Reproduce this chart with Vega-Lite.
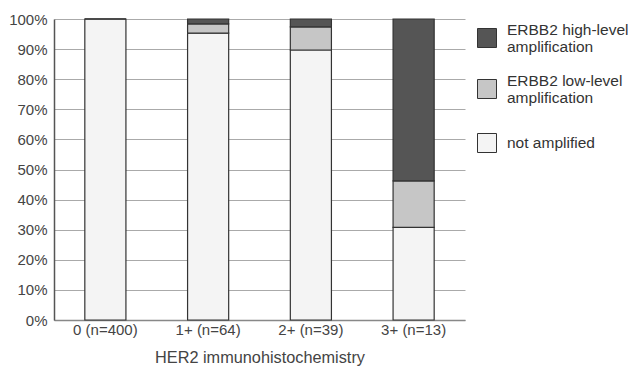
{
  "$schema": "https://vega.github.io/schema/vega-lite/v6.json",
  "width": 411,
  "height": 301,
  "autosize": "none",
  "padding": {"left": 54, "top": 19, "right": 163, "bottom": 47},
  "background": "white",
  "data": {
    "values": [
      {"ihc": "0 (n=400)", "status": "not amplified", "pct": 100, "ord": 1},
      {"ihc": "0 (n=400)", "status": "ERBB2 low-level amplification", "pct": 0, "ord": 2},
      {"ihc": "0 (n=400)", "status": "ERBB2 high-level amplification", "pct": 0, "ord": 3},
      {"ihc": "1+ (n=64)", "status": "not amplified", "pct": 95.3, "ord": 1},
      {"ihc": "1+ (n=64)", "status": "ERBB2 low-level amplification", "pct": 3.1, "ord": 2},
      {"ihc": "1+ (n=64)", "status": "ERBB2 high-level amplification", "pct": 1.6, "ord": 3},
      {"ihc": "2+ (n=39)", "status": "not amplified", "pct": 89.7, "ord": 1},
      {"ihc": "2+ (n=39)", "status": "ERBB2 low-level amplification", "pct": 7.7, "ord": 2},
      {"ihc": "2+ (n=39)", "status": "ERBB2 high-level amplification", "pct": 2.6, "ord": 3},
      {"ihc": "3+ (n=13)", "status": "not amplified", "pct": 30.8, "ord": 1},
      {"ihc": "3+ (n=13)", "status": "ERBB2 low-level amplification", "pct": 15.4, "ord": 2},
      {"ihc": "3+ (n=13)", "status": "ERBB2 high-level amplification", "pct": 53.8, "ord": 3}
    ]
  },
  "mark": {"type": "bar", "stroke": "#333333", "strokeWidth": 1.2},
  "encoding": {
    "x": {
      "field": "ihc",
      "type": "nominal",
      "sort": null,
      "scale": {"paddingInner": 0.6, "paddingOuter": 0.3},
      "axis": {
        "title": "HER2 immunohistochemistry",
        "labelAngle": 0,
        "labelFont": "Liberation Sans",
        "labelFontSize": 15,
        "labelColor": "#444444",
        "labelPadding": 2,
        "titleFont": "Liberation Sans",
        "titleFontSize": 16.3,
        "titleFontWeight": "normal",
        "titleColor": "#444444",
        "titlePadding": 12,
        "ticks": false,
        "domainColor": "#888888",
        "domainWidth": 1.5
      }
    },
    "y": {
      "field": "pct",
      "type": "quantitative",
      "stack": "zero",
      "scale": {"domain": [0, 100], "nice": false},
      "axis": {
        "title": null,
        "values": [0, 10, 20, 30, 40, 50, 60, 70, 80, 90, 100],
        "labelExpr": "datum.value + '%'",
        "labelFont": "Liberation Sans",
        "labelFontSize": 15,
        "labelColor": "#444444",
        "labelPadding": 7,
        "ticks": false,
        "grid": true,
        "gridColor": "#aaaaaa",
        "gridWidth": 1,
        "domainColor": "#555555",
        "domainWidth": 1.5
      }
    },
    "order": {"field": "ord", "type": "quantitative"},
    "fill": {
      "field": "status",
      "type": "nominal",
      "scale": {
        "domain": ["ERBB2 high-level amplification", "ERBB2 low-level amplification", "not amplified"],
        "range": ["#555555", "#c6c6c6", "#f4f4f4"]
      },
      "legend": {
        "title": null,
        "orient": "none",
        "legendX": 423,
        "legendY": 9,
        "padding": 0,
        "symbolType": "square",
        "symbolSize": 361,
        "symbolStrokeColor": "#333333",
        "symbolStrokeWidth": 1,
        "labelFont": "Liberation Sans",
        "labelFontSize": 15.5,
        "labelColor": "#333333",
        "labelOffset": 10,
        "labelLimit": 200,
        "labelExpr": "datum.label == 'not amplified' ? ['', datum.label] : [slice(datum.label, 0, indexof(datum.label, ' amplification')), 'amplification']",
        "rowPadding": 18,
        "encode": {
          "labels": {
            "update": {
              "lineHeight": {"signal": "datum.value == 'not amplified' ? 12 : 17"},
              "dy": {"signal": "datum.value == 'not amplified' ? -12 : -8.5"}
            }
          }
        }
      }
    }
  },
  "config": {
    "view": {"stroke": null}
  }
}
